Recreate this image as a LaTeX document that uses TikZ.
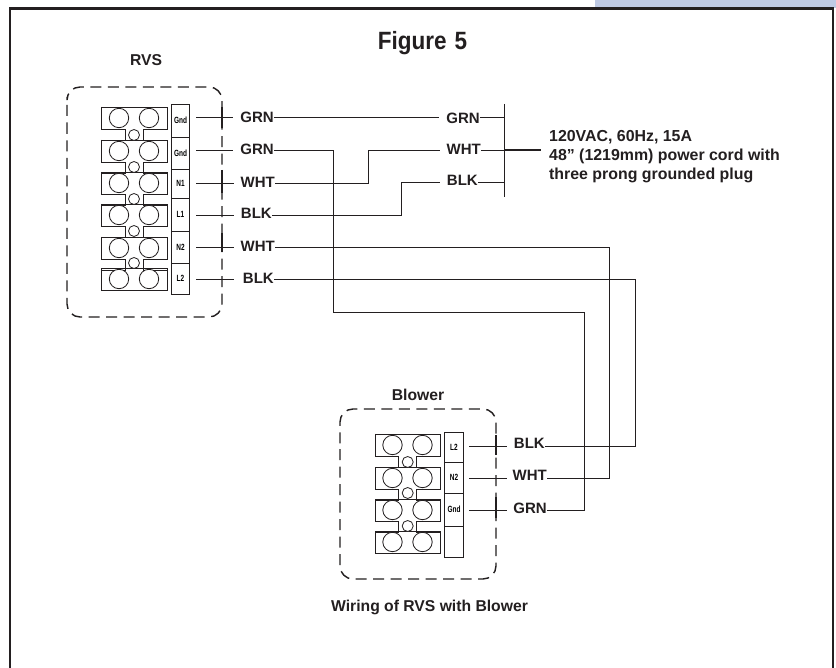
\documentclass[tikz,border=0pt]{standalone}
\usepackage{fontspec}
\setmainfont{Liberation Sans}
\newfontfamily\squeezed[FakeStretch=0.72]{Liberation Sans}
\newfontfamily\titlefont[FakeStretch=0.9]{Liberation Sans}
\definecolor{band}{HTML}{BFCAE4}
\definecolor{ink}{HTML}{231F20}
\tikzset{
  x=1pt,y=-1pt,
  frameline/.style={draw=ink,line width=2.4pt},
  dashbox/.style={draw=ink,line width=1.4pt,dash pattern=on 11pt off 6.5pt,rounded corners=13pt},
  wire/.style={draw=ink,line width=0.75pt},
  term/.style={draw=ink,line width=0.8pt},
  lug/.style={draw=ink,line width=0.8pt,fill=white},
  strip/.style={draw=ink,line width=0.8pt,fill=white,minimum width=18.5pt,inner sep=0pt,font=\squeezed\bfseries\fontsize{9}{10}\selectfont},
  wl/.style={font=\bfseries\fontsize{15}{17}\selectfont,text=ink,inner ysep=1pt,inner xsep=0pt,fill=white,anchor=east},
  captext/.style={font=\bfseries\fontsize{15.7}{19}\selectfont,text=ink,inner sep=0pt},
}
\newcommand{\blockcell}[2]{% x, y of top-left
  \draw[term] (#1,#2) -- ++(65.5,0) -- ++(0,22) -- ++(-24,0) -- ++(0,11) -- ++(24,0);
  \draw[term] (#1,#2) -- ++(0,22) -- ++(23.5,0) -- ++(0,11) -- ++(-23.5,0);
  \draw[lug] (#1+17.5,#2+11) circle (9.7);
  \draw[lug] (#1+47.5,#2+11) circle (9.7);
}
\newcommand{\lastcell}[2]{%
  \draw[term] (#1,#2) rectangle ++(65.5,22);
  \draw[lug] (#1+17.5,#2+11) circle (9.7);
  \draw[lug] (#1+47.5,#2+11) circle (9.7);
}
\begin{document}
\begin{tikzpicture}
\useasboundingbox (0,0) rectangle (836,668);
\fill[white] (0,0) rectangle (836,668);
\fill[band] (595,0) rectangle (836,8);
\draw[frameline] (10,668) -- (10,8.5) -- (833,8.5) -- (833,668);

\node[font=\titlefont\bfseries\fontsize{25}{28}\selectfont,text=ink,inner sep=0pt] (title) at (422.5,43) {Figure\hspace{8pt}5};
\node[captext] (rvslab) at (146,60.5) {RVS};
\node[captext] (blowlab) at (418,395) {Blower};
\node[captext] (wiring) at (429.5,607) {Wiring of RVS with Blower};

% dashed enclosures
\draw[dashbox] (67,110) -- (67,317) -- (222,317) -- (222,87) -- (67,87) -- cycle;
\draw[dashbox] (340,436) -- (340,579) -- (496,579) -- (496,409) -- (340,409) -- cycle;

% RVS terminals
\foreach \yy in {107,140,172,204,237}{\blockcell{101.5}{\yy}}
\lastcell{101.5}{268}
\foreach \yy in {135,167,199,231,263}{\draw[lug] (134,\yy) circle (5.5);}

% Blower terminals
\foreach \yy in {434,467,499}{\blockcell{375}{\yy}}
\lastcell{375}{531}
\foreach \yy in {462,493,526}{\draw[lug] (407.7,\yy) circle (5.5);}

% terminal strips
\node[strip,minimum height=33pt] (g1) at (180.5,120.5) {Gnd};
\node[strip,minimum height=32pt] (g2) at (180.5,153) {Gnd};
\node[strip,minimum height=29pt] (n1) at (180.5,183.5) {N1};
\node[strip,minimum height=33pt] (l1) at (180.5,214.5) {L1};
\node[strip,minimum height=32pt] (n2) at (180.5,247) {N2};
\node[strip,minimum height=31pt] (l2) at (180.5,278.5) {L2};

\node[strip,minimum height=30pt] (bl2) at (454,447) {L2};
\node[strip,minimum height=31pt] (bn2) at (454,477.5) {N2};
\node[strip,minimum height=33pt] (bg) at (454,509.5) {Gnd};
\node[strip,minimum height=31pt] (bx) at (454,541.5) {};

% coordinates
\coordinate (s1) at (196,117);
\coordinate (s2) at (196,150);
\coordinate (s3) at (196,183);
\coordinate (s4) at (196,215);
\coordinate (s5) at (196,247);
\coordinate (s6) at (196,279);
\coordinate (b1) at (469,446);
\coordinate (b2) at (469,478);
\coordinate (b3) at (469,510);

\coordinate (c1) at (504,117);
\coordinate (c2) at (504,150);
\coordinate (c3) at (504,182);
\coordinate (bar1) at (504,104);
\coordinate (bar2) at (504,197);
\coordinate (cord) at (541,150);

% wires
\draw[wire] (s1) -- (c1);
\draw[wire] (s2) -- (333,150) -- (333,312) -- (584,312) -- (584,510) -- (b3);
\draw[wire] (s3) -- (368,183) -- (368,150) -- (c2);
\draw[wire] (s4) -- (401,215) -- (401,182) -- (c3);
\draw[wire] (s5) -- (609,247) -- (609,478) -- (b2);
\draw[wire] (s6) -- (635,279) -- (635,446) -- (b1);
\draw[wire] (bar1) -- (bar2);
\draw[draw=ink,line width=1.4pt] (c2) -- (cord);

% crossing ticks at the enclosure
\foreach \ya/\yb in {107/128,170/193,233/252}{\draw[draw=ink,line width=1.2pt] (222,\ya) -- (222,\yb);}
\foreach \ya/\yb in {435/455,497/518}{\draw[draw=ink,line width=1.2pt] (496,\ya) -- (496,\yb);}

% wire labels (anchored at their right end, white lead-in leaves the gap before the word)
\node[wl] (lg1) at (274,117) {\hspace*{7pt}GRN};
\node[wl] (lg2) at (274,149) {\hspace*{7pt}GRN};
\node[wl] (lw1) at (275,182) {\hspace*{7pt}WHT};
\node[wl] (lb1) at (272,213.5) {\hspace*{7pt}BLK};
\node[wl] (lw2) at (275,246) {\hspace*{7pt}WHT};
\node[wl] (lb2) at (274,278) {\hspace*{9pt}BLK};
\node[wl] (rg) at (480,118) {\hspace*{7pt}GRN};
\node[wl] (rw) at (481,149) {\hspace*{7pt}WHT};
\node[wl] (rb) at (478,180.5) {\hspace*{7pt}BLK};
\node[wl] (bb) at (545,443.5) {\hspace*{7pt}BLK};
\node[wl] (bw) at (547,475.5) {\hspace*{6pt}WHT};
\node[wl] (bgl) at (547,508) {\hspace*{6pt}GRN};

\node[captext,align=left,anchor=west,font=\bfseries\fontsize{15.9}{19}\selectfont] (cordlab) at (549,157) {120VAC, 60Hz, 15A\\48” (1219mm) power cord with\\three prong grounded plug};
\end{tikzpicture}
\end{document}
